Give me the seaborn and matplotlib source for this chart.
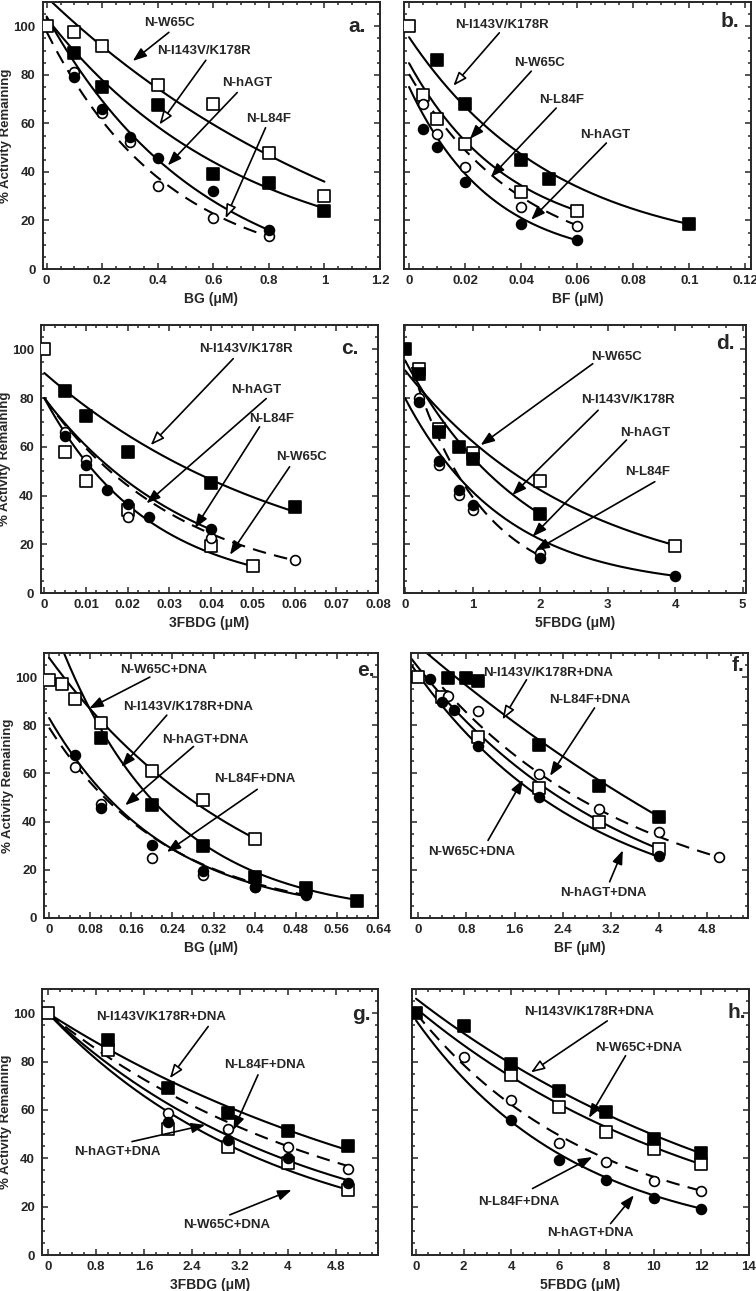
import numpy as np
import matplotlib
matplotlib.use("Agg")
import matplotlib.pyplot as plt
import seaborn as sns
from matplotlib.ticker import AutoMinorLocator, FixedLocator

# ---------------- data ----------------
# panel a : BG
a_x_w65c = [0, 0.1, 0.2, 0.4, 0.6, 0.8, 1.0]
a_y_w65c = [100, 97.7, 91.8, 75.9, 67.9, 47.9, 30]
a_x_i143 = [0.1, 0.2, 0.4, 0.6, 0.8, 1.0]
a_y_i143 = [89, 74.8, 67.7, 39, 35.5, 24]
a_x_hagt = [0.1, 0.2, 0.3, 0.4, 0.6, 0.8]
a_y_hagt = [79.3, 65.9, 54.3, 45.8, 32.2, 16.1]
a_x_l84f = [0.1, 0.2, 0.3, 0.4, 0.6, 0.8]
a_y_l84f = [81.2, 64.1, 52.3, 34.2, 21.1, 13.6]
# fitted decay curves: (A, k, C, x_start, x_end) -> A*exp(-k x) + C
a_fit_w65c = (140, 0.783, -28, 0, 1.0)
a_fit_i143 = (103.4, 1.42, 0, 0, 1.0)
a_fit_hagt = (116, 1.776, -12, 0, 0.8)
a_fit_l84f = (100.9, 2.26, -3.2, 0, 0.8)

# panel b : BF
b_x_w65c = [0, 0.005, 0.01, 0.02, 0.04, 0.06]
b_y_w65c = [100, 71.8, 62, 51.6, 31.6, 23.8]
b_x_i143 = [0.01, 0.02, 0.04, 0.05, 0.1]
b_y_i143 = [85.9, 68, 44.8, 37.2, 18.5]
b_x_hagt = [0.005, 0.01, 0.02, 0.04, 0.06]
b_y_hagt = [57.7, 50.1, 35.7, 18.5, 11.8]
b_x_l84f = [0.005, 0.01, 0.02, 0.04, 0.06]
b_y_l84f = [68, 55.6, 42, 25.5, 17.9]
b_fit_w65c = (74.6, 28.1, 10.2, 0, 0.06)
b_fit_i143 = (90.6, 19.0, 4.9, 0, 0.1)
b_fit_hagt = (72.7, 33.9, 2.3, 0, 0.06)
b_fit_l84f = (81, 24.5, -0.7, 0, 0.06)

# panel c : 3FBDG
c_x_w65c = [0, 0.005, 0.01, 0.02, 0.04, 0.05]
c_y_w65c = [100, 58, 46.1, 34.1, 19.4, 10.9]
c_x_i143 = [0.005, 0.01, 0.02, 0.04, 0.06]
c_y_i143 = [82.8, 72.7, 58, 45.3, 35.2]
c_x_hagt = [0.005, 0.01, 0.015, 0.02, 0.025, 0.04]
c_y_hagt = [64.5, 52.5, 42.3, 36.4, 31.1, 26.2]
c_x_l84f = [0.005, 0.01, 0.02, 0.04, 0.06]
c_y_l84f = [66.2, 54.6, 31.1, 22.5, 13.4]
c_fit_w65c = (80, 39.7, 0, 0, 0.05)
c_fit_i143 = (90.3, 16.6, 0, 0, 0.06)
c_fit_hagt = (80, 28.1, 0, 0, 0.04)
c_fit_l84f = (80, 29.8, 0, 0, 0.06)

# panel d : 5FBDG
d_x_w65c = [0.2, 0.5, 1.0, 2.0, 4.0]
d_y_w65c = [92.1, 67.5, 57.3, 46, 19.1]
d_x_i143 = [0, 0.2, 0.5, 0.8, 1.0, 2.0]
d_y_i143 = [100, 90, 65.9, 59.8, 54.8, 32.5]
d_x_hagt = [0.2, 0.5, 0.8, 1.0, 2.0, 4.0]
d_y_hagt = [78.2, 54.3, 42.3, 36.2, 14.3, 6.8]
d_x_l84f = [0.2, 0.5, 0.8, 1.0, 2.0]
d_y_l84f = [80.2, 52.5, 40.2, 34.1, 16.4]
d_fit_w65c = (91.4, 0.385, 0, 0, 4)
d_fit_i143 = (95.5, 0.54, 0, 0, 2)
d_fit_hagt = (78.2, 0.676, 1.8, 0, 4)
d_fit_l84f = (102, 0.95, 0, 0.1, 2)

# panel e : BG + DNA
e_x_w65c = [0, 0.025, 0.05, 0.1, 0.2, 0.3, 0.4]
e_y_w65c = [99, 97, 90.8, 80.8, 61, 49, 32.9]
e_x_i143 = [0.1, 0.2, 0.3, 0.4, 0.5, 0.6]
e_y_i143 = [74.7, 46.8, 29.9, 17.1, 12.3, 7.1]
e_x_hagt = [0.05, 0.1, 0.2, 0.3, 0.4, 0.5]
e_y_hagt = [67.5, 45.5, 30.5, 19.5, 13, 9.8]
e_x_l84f = [0.05, 0.1, 0.2, 0.3, 0.4, 0.5]
e_y_l84f = [62.5, 47.5, 25, 18, 13, 9.5]
e_fit_w65c = (120.9, 2.42, -12.9, 0, 0.4)
e_fit_i143 = (126, 4.71, 0, 0, 0.6)
e_fit_hagt = (83, 4.44, 0, 0, 0.5)
e_fit_l84f = (79, 4.24, 0, 0, 0.5)

# panel f : BF + DNA
f_x_w65c = [0, 0.4, 1.0, 2.0, 3.0, 4.0]
f_y_w65c = [100, 91.7, 75.1, 53.9, 40, 28.7]
f_x_i143 = [0.5, 0.8, 1.0, 2.0, 3.0, 4.0]
f_y_i143 = [99.6, 99.6, 98.5, 72, 54.9, 41.8]
f_x_hagt = [0.2, 0.4, 0.6, 1.0, 2.0, 4.0]
f_y_hagt = [99.2, 89.6, 86.5, 71.4, 50.1, 25.6]
f_x_l84f = [0.5, 1.0, 2.0, 3.0, 4.0, 5.0]
f_y_l84f = [92.3, 85.8, 59.9, 45.2, 35.8, 25.3]
f_fit_w65c = (111.4, 0.282, -7.4, -0.12, 4)
f_fit_i143 = (216.7, 0.0992, -103.7, -0.12, 4)
f_fit_hagt = (101, 0.345, 0, -0.12, 4)
f_fit_l84f = (107.6, 0.29, 0, 0.4, 5)

# panel g : 3FBDG + DNA
g_x_w65c = [0, 1, 2, 3, 4, 5]
g_y_w65c = [100, 84.8, 52, 44.6, 37.9, 26.9]
g_x_i143 = [1, 2, 3, 4, 5]
g_y_i143 = [89, 69, 58.9, 51.4, 45.1]
g_x_hagt = [2, 3, 4, 5]
g_y_hagt = [55.2, 47.6, 40, 29.9]
g_x_l84f = [2, 3, 4, 5]
g_y_l84f = [58.9, 52, 44.5, 35.7]
g_fit_w65c = (100, 0.262, 0, 0, 5)
g_fit_i143 = (110.4, 0.144, -10.4, 0, 5)
g_fit_hagt = (100, 0.235, 0, 0, 5)
g_fit_l84f = (100, 0.2, 0, 0, 5)

# panel h : 5FBDG + DNA
h_x_w65c = [4, 6, 8, 10, 12]
h_y_w65c = [74.5, 61.1, 50.8, 44, 37.5]
h_x_i143 = [0, 2, 4, 6, 8, 10, 12]
h_y_i143 = [100, 94.8, 79, 68, 59.1, 48.1, 42.2]
h_x_hagt = [4, 6, 8, 10, 12]
h_y_hagt = [56, 39.4, 30.9, 23.4, 19.2]
h_x_l84f = [2, 4, 6, 8, 10, 12]
h_y_l84f = [82, 64.1, 46.3, 38.5, 30.6, 26.5]
h_fit_w65c = (107.6, 0.0763, -5.6, 0, 12)
h_fit_i143 = (120.3, 0.0633, -14.3, 0, 12)
h_fit_hagt = (93.7, 0.148, 3.3, 0, 12)
h_fit_l84f = (92.7, 0.131, 7.3, 0, 12)

# tick labels
a_xticks = [0, 0.2, 0.4, 0.6, 0.8, 1, 1.2]
b_xticks = [0, 0.02, 0.04, 0.06, 0.08, 0.1, 0.12]
c_xticks = [0, 0.01, 0.02, 0.03, 0.04, 0.05, 0.06, 0.07, 0.08]
d_xticks = [0, 1, 2, 3, 4, 5]
e_xticks = [0, 0.08, 0.16, 0.24, 0.32, 0.4, 0.48, 0.56, 0.64]
f_xticks = [0, 0.8, 1.6, 2.4, 3.2, 4, 4.8]
g_xticks = [0, 0.8, 1.6, 2.4, 3.2, 4, 4.8]
h_xticks = [0, 2, 4, 6, 8, 10, 12, 14]
y_ticks = [0, 20, 40, 60, 80, 100]

# ---------------- style ----------------
sns.set_style("ticks")
plt.rcParams['font.family'] = ['Liberation Sans', 'DejaVu Sans']
plt.rcParams['font.weight'] = 'bold'
plt.rcParams['axes.labelweight'] = 'bold'

fig = plt.figure(figsize=(7.56, 12.91), dpi=100)
W, H = 756.0, 1291.0


def make_ax(left, right, top, bottom):
    return fig.add_axes([left / W, 1 - bottom / H, (right - left) / W, (bottom - top) / H])


def curve(ax, fit, dashed=False):
    A, k, C, x0, x1 = fit
    xs = np.linspace(x0, x1, 300)
    ys = A * np.exp(-k * xs) + C
    sns.lineplot(x=xs, y=ys, ax=ax, color='black', lw=1.5, sort=False,
                 estimator=None, zorder=2,
                 linestyle=(0, (6.5, 4)) if dashed else '-')


def points(ax, x, y, marker, filled):
    sns.scatterplot(x=x, y=y, ax=ax, marker=marker,
                    s=68 if marker == 's' else 50,
                    color='black' if filled else 'white',
                    edgecolor='black', linewidth=1.2, zorder=4)


def arrow(ax, start, tip, open_head=False):
    ax.annotate('', xy=tip, xytext=start,
                arrowprops=dict(arrowstyle='-|>,head_length=0.75,head_width=0.28',
                                fc='white' if open_head else 'black', ec='black',
                                lw=1.2, mutation_scale=11, shrinkA=0, shrinkB=0),
                zorder=5)


def setup(ax, xlim, xticks, xlabel, letter, letter_xy, left_col):
    ax.set_xlim(*xlim)
    ax.set_ylim(0, 110)
    ax.xaxis.set_major_locator(FixedLocator(xticks))
    ax.set_xticklabels(['%g' % t for t in xticks])
    ax.yaxis.set_major_locator(FixedLocator(y_ticks))
    ax.xaxis.set_minor_locator(AutoMinorLocator(4))
    ax.yaxis.set_minor_locator(AutoMinorLocator(4))
    ax.tick_params(which='both', direction='in', top=True, right=True,
                   labelsize=9.5, width=1.1)
    ax.tick_params(which='major', length=4.5)
    ax.tick_params(which='minor', length=2.5)
    ax.tick_params(axis='x', pad=4)
    ax.tick_params(axis='y', pad=5, labelleft=left_col)
    for lab in ax.get_xticklabels() + ax.get_yticklabels():
        lab.set_fontweight('bold')
    for sp in ax.spines.values():
        sp.set_linewidth(1.4)
        sp.set_visible(True)
    ax.set_xlabel(xlabel, fontsize=10, fontweight='bold', labelpad=4)
    if left_col:
        ax.set_ylabel('% Activity Remaining', fontsize=9.5, fontweight='bold', labelpad=1)
    else:
        ax.set_ylabel('')
    ax.text(letter_xy[0], letter_xy[1], letter, fontsize=15, fontweight='bold',
            ha='center', va='center')


def panel(ax, d, notes):
    (xw, yw, xi, yi, xh, yh, xl, yl, fw, fi, fh, fl) = d
    curve(ax, fw)
    curve(ax, fi)
    curve(ax, fh)
    curve(ax, fl, dashed=True)
    points(ax, xw, yw, 's', False)
    points(ax, xi, yi, 's', True)
    points(ax, xl, yl, 'o', False)
    points(ax, xh, yh, 'o', True)
    for label, txy, start, tip, op in notes:
        ax.text(txy[0], txy[1], label, fontsize=9.5, fontweight='bold',
                ha='center', va='center', zorder=6)
        arrow(ax, start, tip, op)


# ---------------- panels ----------------
ax = make_ax(42.5, 380, 2, 269)
panel(ax, (a_x_w65c, a_y_w65c, a_x_i143, a_y_i143, a_x_hagt, a_y_hagt, a_x_l84f, a_y_l84f,
           a_fit_w65c, a_fit_i143, a_fit_hagt, a_fit_l84f),
      [('N-W65C', (0.442, 101.4), (0.44, 97.5), (0.31, 85.7), False),
       ('N-I143V/K178R', (0.567, 89.8), (0.573, 86.0), (0.406, 59.5), True),
       ('N-hAGT', (0.722, 76.8), (0.686, 72.7), (0.436, 42.7), False),
       ('N-L84F', (0.80, 61.8), (0.788, 58.2), (0.644, 20.9), True)])
setup(ax, (-0.015, 1.2), a_xticks, 'BG (\u03bcM)', 'a.', (1.116, 100), True)

ax = make_ax(404, 751, 2, 269)
panel(ax, (b_x_w65c, b_y_w65c, b_x_i143, b_y_i143, b_x_hagt, b_y_hagt, b_x_l84f, b_y_l84f,
           b_fit_w65c, b_fit_i143, b_fit_hagt, b_fit_l84f),
      [('N-I143V/K178R', (0.0332, 100.7), (0.0322, 97.3), (0.0158, 75.5), True),
       ('N-W65C', (0.0465, 84.9), (0.0436, 81.5), (0.0217, 53.6), False),
       ('N-L84F', (0.0543, 69.8), (0.0525, 66.3), (0.0292, 37.9), False),
       ('N-hAGT', (0.0698, 55.4), (0.0704, 51.9), (0.0436, 20.3), False)])
setup(ax, (-0.0018, 0.122), b_xticks, 'BF (\u03bcM)', 'b.', (0.1146, 102), False)

ax = make_ax(41, 378, 325, 593)
panel(ax, (c_x_w65c, c_y_w65c, c_x_i143, c_y_i143, c_x_hagt, c_y_hagt, c_x_l84f, c_y_l84f,
           c_fit_w65c, c_fit_i143, c_fit_hagt, c_fit_l84f),
      [('N-I143V/K178R', (0.0484, 100.3), (0.0453, 96.2), (0.0255, 60.7), True),
       ('N-hAGT', (0.0507, 83.2), (0.0532, 79.8), (0.0245, 36.8), False),
       ('N-L84F', (0.0544, 71.6), (0.0516, 68.2), (0.0361, 26.6), False),
       ('N-W65C', (0.0616, 55.9), (0.0588, 51.8), (0.0445, 15.7), False)])
setup(ax, (-0.0008, 0.08), c_xticks, '3FBDG (\u03bcM)', 'c.', (0.0732, 100.3), True)

ax = make_ax(404, 746, 325, 593)
panel(ax, (d_x_w65c, d_y_w65c, d_x_i143, d_y_i143, d_x_hagt, d_y_hagt, d_x_l84f, d_y_l84f,
           d_fit_w65c, d_fit_i143, d_fit_hagt, d_fit_l84f),
      [('N-W65C', (3.13, 96.9), (2.78, 94.1), (1.12, 60.7), False),
       ('N-I143V/K178R', (3.30, 79.1), (2.86, 75.0), (1.59, 40.2), False),
       ('N-hAGT', (3.56, 65.8), (3.28, 62.8), (1.89, 23.2), False),
       ('N-L84F', (3.60, 49.8), (3.70, 45.7), (1.93, 17.5), False)])
setup(ax, (-0.015, 5.05), d_xticks, '5FBDG (\u03bcM)', 'd.', (4.74, 102.3), False)

ax = make_ax(44, 378, 653, 918)
panel(ax, (e_x_w65c, e_y_w65c, e_x_i143, e_y_i143, e_x_hagt, e_y_hagt, e_x_l84f, e_y_l84f,
           e_fit_w65c, e_fit_i143, e_fit_hagt, e_fit_l84f),
      [('N-W65C+DNA', (0.2225, 103), (0.196, 100), (0.078, 87), False),
       ('N-I143V/K178R+DNA', (0.2713, 87.7), (0.229, 84.2), (0.141, 62.7), False),
       ('N-hAGT+DNA', (0.305, 74), (0.281, 71.2), (0.148, 46.8), False),
       ('N-L84F+DNA', (0.401, 57.5), (0.405, 53.4), (0.229, 27.4), False)])
setup(ax, (-0.01, 0.64), e_xticks, 'BG (\u03bcM)', 'e.', (0.616, 102.7), True)

ax = make_ax(411, 748, 653, 918)
panel(ax, (f_x_w65c, f_y_w65c, f_x_i143, f_y_i143, f_x_hagt, f_y_hagt, f_x_l84f, f_y_l84f,
           f_fit_w65c, f_fit_i143, f_fit_hagt, f_fit_l84f),
      [('N-I143V/K178R+DNA', (2.16, 101.6), (1.80, 98.9), (1.40, 82.4), True),
       ('N-L84F+DNA', (2.85, 90.6), (2.93, 87.2), (2.19, 59), False),
       ('N-W65C+DNA', (0.885, 27.4), (1.16, 32.2), (1.74, 57.4), False),
       ('N-hAGT+DNA', (3.07, 10.2), (3.18, 15), (3.40, 28.1), False)])
setup(ax, (-0.12, 5.48), f_xticks, 'BF (\u03bcM)', 'f.', (5.31, 105), False)

ax = make_ax(42, 378, 989, 1255)
panel(ax, (g_x_w65c, g_y_w65c, g_x_i143, g_y_i143, g_x_hagt, g_y_hagt, g_x_l84f, g_y_l84f,
           g_fit_w65c, g_fit_i143, g_fit_hagt, g_fit_l84f),
      [('N-I143V/K178R+DNA', (1.88, 98.6), (2.67, 94.5), (2.03, 73.1), True),
       ('N-L84F+DNA', (3.61, 78.6), (3.50, 74.5), (3.09, 51.7), False),
       ('N-hAGT+DNA', (1.15, 42.8), (1.40, 46.9), (2.62, 53.8), False),
       ('N-W65C+DNA', (2.98, 12.4), (3.03, 16.6), (4.06, 26.9), False)])
setup(ax, (-0.1, 5.5), g_xticks, '3FBDG (\u03bcM)', 'g.', (5.22, 99.3), True)

ax = make_ax(412, 749, 989, 1255)
panel(ax, (h_x_w65c, h_y_w65c, h_x_i143, h_y_i143, h_x_hagt, h_y_hagt, h_x_l84f, h_y_l84f,
           h_fit_w65c, h_fit_i143, h_fit_hagt, h_fit_l84f),
      [('N-I143V/K178R+DNA', (7.27, 100.3), (8.04, 96.8), (4.83, 75.5), True),
       ('N-W65C+DNA', (9.37, 85.6), (8.81, 82.4), (7.27, 56.7), False),
       ('N-L84F+DNA', (4.34, 22), (4.9, 27.5), (7.41, 40.5), False),
       ('N-hAGT+DNA', (7.34, 8.9), (8.18, 13), (9.16, 24.7), False)])
setup(ax, (-0.17, 14), h_xticks, '5FBDG (\u03bcM)', 'h.', (13.5, 100.3), False)

fig.savefig('out.png', dpi=100)
